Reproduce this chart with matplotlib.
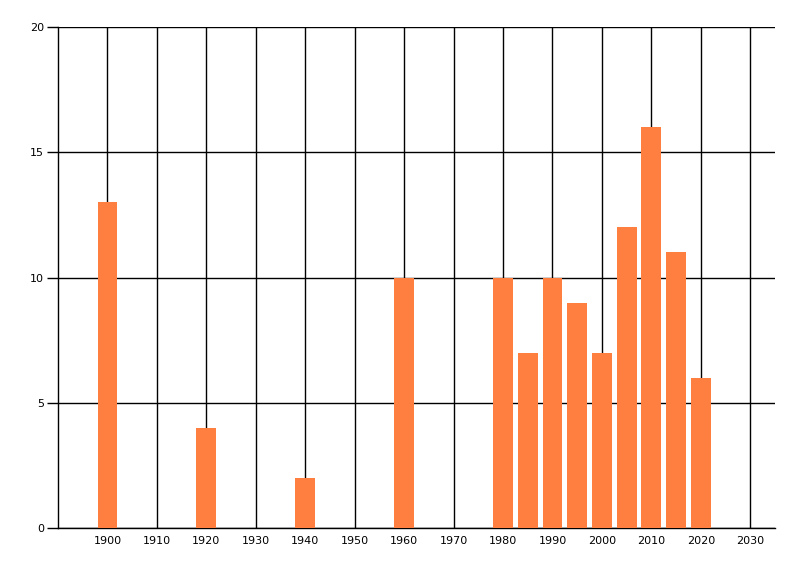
import matplotlib.pyplot as plt
import numpy as np

YEARS = [1900, 1920, 1940, 1960, 1980, 1985, 1990, 1995, 2000, 2005, 2010, 2015, 2020]
COUNTS = [13, 4, 2, 10, 10, 7, 10, 9, 7, 12, 16, 11, 6]
X_TICKS = list(range(1900, 2031, 10))
Y_TICKS = [0, 5, 10, 15, 20]

BAR_COLOR = '#FF7F40'

fig = plt.figure(figsize=(8, 5.76), dpi=100)
axis = fig.add_axes([58 / 800, 1 - 528 / 576, (775 - 58) / 800, (528 - 27) / 576])

axis.bar(YEARS, COUNTS, width=4, color=BAR_COLOR, zorder=3)

axis.set_xlim(1890, 2035)
axis.set_ylim(0, 20)
axis.set_xticks(X_TICKS)
axis.set_yticks(Y_TICKS)

# grid behind the bars
axis.grid(True, color='black', linewidth=1, zorder=0)
axis.set_axisbelow(True)

for side in ('top', 'right'):
    axis.spines[side].set_visible(False)
for side in ('left', 'bottom'):
    axis.spines[side].set_linewidth(1)

axis.tick_params(axis='x', length=0, pad=6, labelsize=8)
axis.tick_params(axis='y', length=8, width=1, pad=2, labelsize=8)

plt.savefig('out.png', dpi=100)
